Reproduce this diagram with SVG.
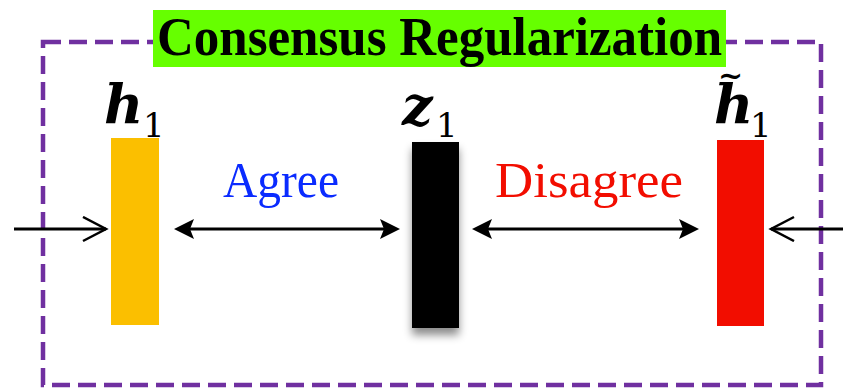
<svg xmlns="http://www.w3.org/2000/svg" width="843" height="388" viewBox="0 0 843 388">
  <style>
    .math { font-family: "DejaVu Serif", "Liberation Serif", serif; font-weight: bold; font-style: italic; font-size: 54px; fill: #000; }
    .sub { font-weight: normal; font-style: normal; font-size: 34px; }
    .tld { font-style: normal; font-size: 30px; }
    .lbl { font-family: "Liberation Serif", "Times New Roman", serif; font-size: 51px; }
    .conn { stroke: #000; stroke-width: 3; fill: none; }
  </style>
  <defs>
    <marker id="solid" markerUnits="userSpaceOnUse" markerWidth="22" markerHeight="22" refX="14" refY="10" orient="auto-start-reverse" viewBox="0 0 22 22">
      <path d="M0,0 L20,10 L0,20 L4,10 Z" fill="#000"/>
    </marker>
    <marker id="open" markerUnits="userSpaceOnUse" markerWidth="28" markerHeight="28" refX="24" refY="13" orient="auto" viewBox="0 0 28 28">
      <path d="M1,1 L24,13 L1,25" fill="none" stroke="#000" stroke-width="2.5"/>
    </marker>
    <filter id="shadow" x="-40%" y="-20%" width="180%" height="140%">
      <feDropShadow dx="0" dy="7" stdDeviation="4" flood-color="#000" flood-opacity="0.45"/>
    </filter>
  </defs>

  <g id="frame">
    <rect x="43" y="42" width="778" height="343" fill="none" stroke="#7030A0" stroke-width="4.5" stroke-dasharray="18 8"/>
  </g>

  <g id="title">
    <rect x="153" y="10" width="573" height="57" fill="#66FF00"/>
    <text x="157" y="55" font-family="Liberation Serif, Times New Roman, serif" font-weight="bold" font-size="54" textLength="565" lengthAdjust="spacingAndGlyphs">Consensus Regularization</text>
  </g>

  <g id="h1">
    <rect x="111" y="138" width="48" height="187" fill="#FBBF00"/>
    <text class="math" x="104" y="123">h<tspan class="sub" x="143" y="137">1</tspan></text>
  </g>

  <g id="z1">
    <rect x="412" y="142" width="47" height="186" fill="#000" filter="url(#shadow)"/>
    <text class="math" x="402" y="125" font-size="50">z<tspan class="sub" x="436" y="137">1</tspan></text>
  </g>

  <g id="h1tilde">
    <rect x="717" y="140" width="47" height="186" fill="#F20D00"/>
    <text class="math" font-size="50"><tspan class="tld" x="718" y="86">~</tspan><tspan x="714" y="123">h</tspan><tspan class="sub" x="750" y="137">1</tspan></text>
  </g>

  <g id="connectors">
    <path class="conn" d="M14,229 L106,229" marker-end="url(#open)"/>
    <path class="conn" d="M180,229 L394,229" marker-start="url(#solid)" marker-end="url(#solid)"/>
    <path class="conn" d="M478,229 L693,229" marker-start="url(#solid)" marker-end="url(#solid)"/>
    <path class="conn" d="M843,229 L771,229" marker-end="url(#open)"/>
    <text class="lbl" x="223" y="197" fill="#0A2BFF" textLength="116" lengthAdjust="spacingAndGlyphs">Agree</text>
    <text class="lbl" x="495" y="197" fill="#F20D00" textLength="188" lengthAdjust="spacingAndGlyphs">Disagree</text>
  </g>
</svg>
